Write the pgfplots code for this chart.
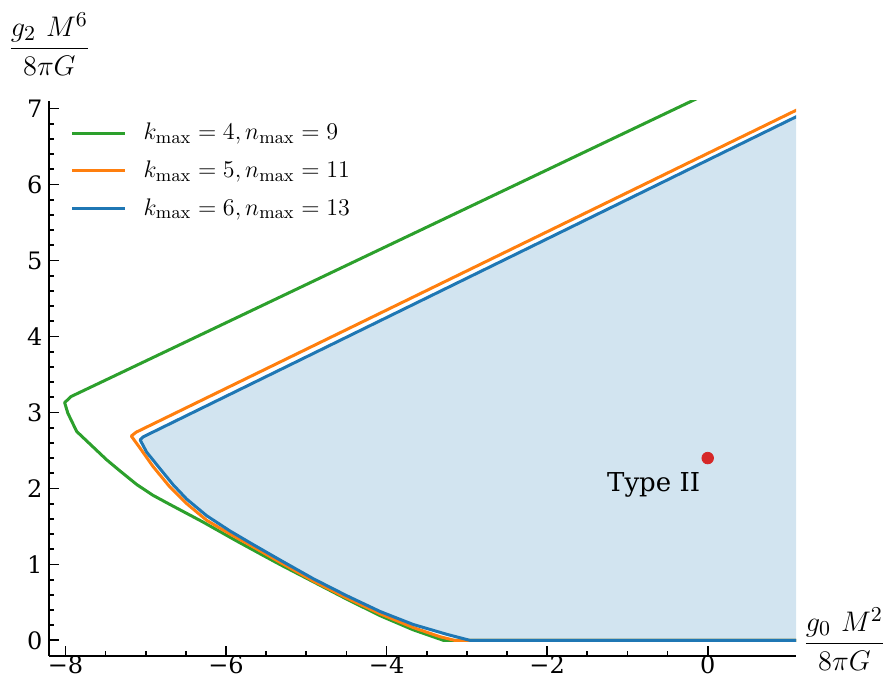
\documentclass[border=0pt]{standalone}
\usepackage{amsmath}
\usepackage[no-math]{fontspec}
\setmainfont{DejaVu Serif}
\usepackage{pgfplots}
\pgfplotsset{compat=1.18}
\definecolor{cblue}{HTML}{1F77B4}
\definecolor{corange}{HTML}{FF7F0E}
\definecolor{cgreen}{HTML}{2CA02C}
\definecolor{cred}{HTML}{D62728}
\definecolor{cfill}{HTML}{D2E4F0}
\pgfplotstableread{
x y
1.3 6.995
-7.03 2.68
-7.07 2.64
-6.99 2.48
-6.83 2.27
-6.66 2.05
-6.49 1.86
-6.24 1.64
-5.95 1.44
-5.66 1.26
-5.33 1.06
-4.91 0.81
-4.50 0.59
-4.08 0.38
-3.67 0.21
-3.25 0.08
-2.96 0
1.3 0
}\blueT
\pgfplotstableread{
x y
1.3 7.08
-7.12 2.74
-7.18 2.69
-7.07 2.53
-6.91 2.29
-6.70 2.02
-6.49 1.80
-6.24 1.58
-5.95 1.40
-5.66 1.23
-5.33 1.03
-4.91 0.78
-4.50 0.56
-4.08 0.35
-3.67 0.17
-3.34 0.05
-3.15 0
1.3 0
}\orangeT
\pgfplotstableread{
x y
0.1 7.25
-7.93 3.21
-8.01 3.13
-7.97 2.99
-7.86 2.75
-7.49 2.38
-7.32 2.23
-7.11 2.05
-6.91 1.91
-6.70 1.79
-6.29 1.56
-5.87 1.31
-5.54 1.12
-5.33 1.00
-4.91 0.77
-4.50 0.545
-4.08 0.325
-3.67 0.14
-3.29 0
1.3 0
}\greenT
\begin{document}
\begin{tikzpicture}
\begin{axis}[
  name=ax,
  scale only axis,
  width=373.3pt, height=277.3pt,
  xmin=-8.2, xmax=1.1, ymin=-0.2, ymax=7.1,
  enlargelimits=false,
  axis x line*=bottom, axis y line*=left,
  axis line style={-, line width=1pt},
  tick align=inside,
  major tick length=5pt, minor tick length=2.5pt,
  every tick/.style={black, line width=0.9pt},
  xtick={-8,-6,-4,-2,0},
  xticklabels={−8,−6,−4,−2,0},
  ytick={0,1,2,3,4,5,6,7},
  yticklabels={0,1,2,3,4,5,6,7},
  minor x tick num=3, minor y tick num=4,
  tick label style={font=\fontsize{12}{14}\selectfont},
  xticklabel style={yshift=3.5pt},
  legend cell align=left,
  legend style={draw=none, fill=none, at={(0.02,0.975)}, anchor=north west,
    font=\fontsize{13}{15}\selectfont, row sep=5pt},
  legend image code/.code={\draw[#1] (0pt,0pt) -- (26.5pt,0pt); \path (33pt,0pt);},
  line join=round,
]
\addplot[fill=cfill, draw=none, forget plot] table {\blueT} -- cycle;
\addplot[cgreen, line width=1.5pt] table {\greenT};
\addlegendentry{$k_{\max}=4, n_{\max}=9$}
\addplot[corange, line width=1.5pt] table {\orangeT};
\addlegendentry{$k_{\max}=5, n_{\max}=11$}
\addplot[cblue, line width=1.5pt] table {\blueT};
\addlegendentry{$k_{\max}=6, n_{\max}=13$}
\addplot[only marks, mark=*, mark size=2.9pt, cred, forget plot] coordinates {(0,2.4)};
\node[anchor=base east, inner sep=0pt, font=\fontsize{13}{15}\selectfont] at (axis cs:-0.09,1.96) {Type II};
\end{axis}
\node[anchor=base, inner sep=0pt, scale=1.18, font=\fontsize{13}{15}\selectfont] at ([yshift=22.6pt]ax.north west) {$\dfrac{g_2\ M^6}{8\pi G}$};
\node[anchor=base, inner sep=0pt, scale=1.18, font=\fontsize{13}{15}\selectfont] at ([xshift=24.2pt,yshift=2.5pt]ax.south east) {$\dfrac{g_0\ M^2}{8\pi G}$};
\pgfresetboundingbox
\path ([shift={(-24.7pt,-12.7pt)}]ax.south west) rectangle ([shift={(45pt,50.5pt)}]ax.north east);
\end{tikzpicture}
\end{document}
